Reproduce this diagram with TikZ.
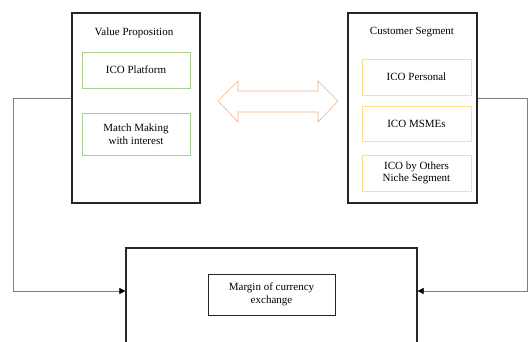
\documentclass[tikz,border=0pt]{standalone}
\usepackage{fontspec}
\setmainfont{Liberation Serif}
\usepackage{tikz}
\usetikzlibrary{arrows.meta}

\definecolor{boxgreen}{HTML}{A9D18E}
\definecolor{boxgold}{HTML}{FFE08A}
\definecolor{arroworange}{HTML}{F4B183}
\definecolor{linegray}{HTML}{808080}

\begin{document}
\begin{tikzpicture}[x=1pt,y=-1pt,
  outer/.style={draw=black!85, line width=1.2pt, inner sep=0pt},
  greenbox/.style={draw=boxgreen, line width=0.6pt, minimum width=108pt, align=center, inner sep=0pt},
  goldbox/.style={draw=boxgold, line width=0.6pt, minimum width=109pt, align=center, inner sep=0pt},
  title/.style={inner sep=0pt},
  conn/.style={draw=linegray, line width=0.6pt, -{Triangle[color=black,length=6pt,width=6pt]}},
  font=\fontsize{11}{12.5}\selectfont]
\clip (0,0) rectangle (528,342);
% value proposition
\node[outer, minimum width=128pt, minimum height=190pt] (vp) at (136,108) {};
\node[title] (vptitle) at (134,33) {Value Proposition};
\node[greenbox, minimum height=36pt] (icoplat) at (136,70) {ICO Platform};
\node[greenbox, minimum height=42pt] (match) at (136,134) {Match Making\\with interest};
%
% customer segment
\node[outer, minimum width=129pt, minimum height=190pt] (cs) at (412.5,108) {};
\node[title] (cstitle) at (412,32) {Customer Segment};
\node[goldbox, minimum height=36pt] (personal) at (416.5,77) {ICO Personal};
\node[goldbox, minimum height=35pt] (msme) at (416.5,123.5) {ICO MSMEs};
\node[goldbox, minimum height=36pt] (others) at (416.5,173) {ICO by Others\\Niche Segment};
%
% double arrow between them
\draw[arroworange, line width=0.6pt, line join=miter]
  (218,101) -- (238,81) -- (238,91) -- (318,91) -- (318,81) -- (338,101)
  -- (318,122) -- (318,112) -- (238,112) -- (238,122) -- cycle;
%
% revenue box
\node[outer, minimum width=291pt, minimum height=160pt] (rev) at (271.5,328) {};
\node[draw=black!85, line width=0.9pt, minimum width=127pt, minimum height=41pt, align=center, inner sep=0pt] (margin) at (271.5,294.5) {Margin of currency\\exchange};
%
\coordinate (lout) at (13,98);
\coordinate (lin) at (13,291);
\coordinate (rout) at (527.5,98);
\coordinate (rin) at (527.5,291);
\draw[conn] (vp.west|-lout) -- (lout) -- (lin) -- (rev.west|-lin);
\draw[conn] (cs.east|-rout) -- (rout) -- (rin) -- (rev.east|-rin);
\end{tikzpicture}
\end{document}
